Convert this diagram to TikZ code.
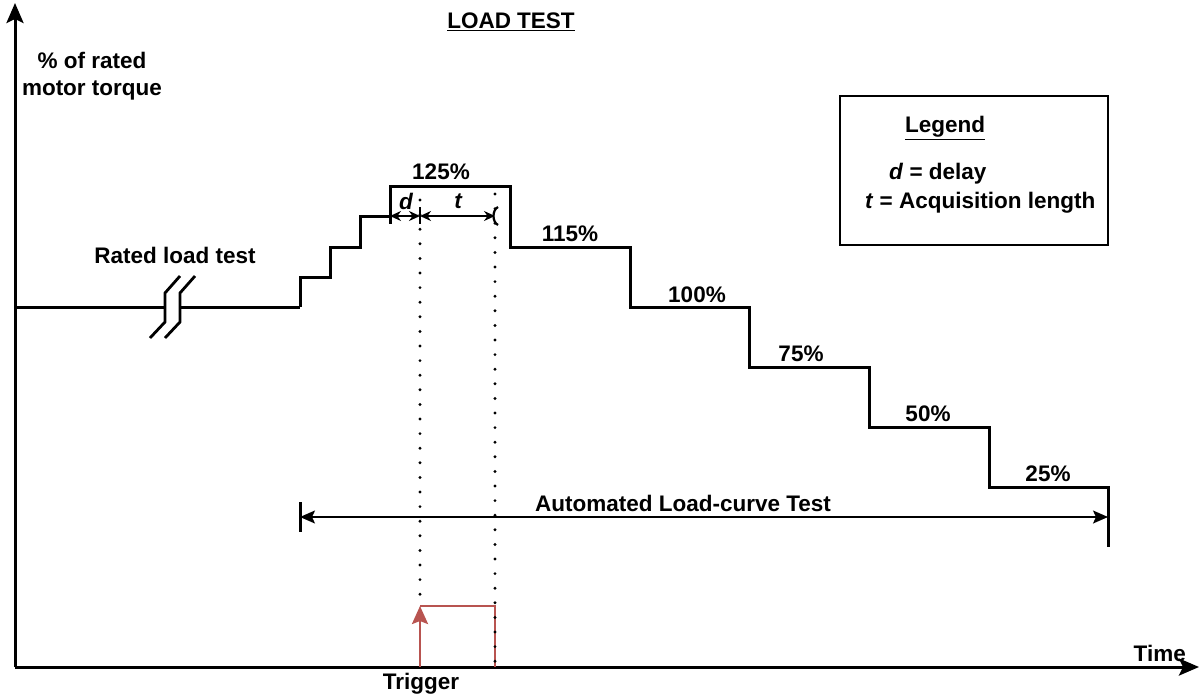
\documentclass[tikz,border=0pt]{standalone}
\usepackage{fontspec}
\setmainfont{Liberation Sans}
\usetikzlibrary{arrows.meta}
\definecolor{trigred}{RGB}{184,84,80}
\begin{document}
\begin{tikzpicture}[x=1pt,y=-1pt,
  lbl/.style={inner sep=0pt,font=\fontsize{22.5}{26.5}\selectfont\bfseries},
  thick line/.style={line width=3pt,line join=miter},
  axis/.style={line width=3pt,-{Stealth[length=20pt,width=17pt,inset=4pt]}},
  dim/.style={line width=1.6pt,{Stealth[length=11pt,width=10pt]}-{Stealth[length=11pt,width=10pt]}},
  dots/.style={line width=3.2pt,line cap=round,dash pattern=on 0pt off 14.6pt}]
\useasboundingbox (0,0) rectangle (1200,697);

% axes
\coordinate (O) at (15,667);
\coordinate (ytop) at (15,3);
\coordinate (xend) at (1199,667);
\draw[axis] (O) -- (ytop);
\draw[axis] (O) -- (xend);
\node[lbl,anchor=south east] (time) at (1186,662) {Time};
\node[lbl,align=center] (ylabel) at (92,76) {\% of rated\\motor torque};
\node[lbl] (title) at (511,22) {\underline{LOAD TEST}};

% rated load segment with break marks
\coordinate (r0) at (15,307);
\coordinate (b1) at (165,307);
\coordinate (b2) at (180,307);
\coordinate (s0) at (300,307);
\draw[thick line] (r0) -- (b1);
\draw[thick line] (b2) -- (s0);
\draw[line width=2.8pt] (150,338) -- (165,322) -- (165,293) -- (180,276);
\draw[line width=2.8pt] (165,338) -- (180,322) -- (180,293) -- (195,276);
\node[lbl] (rated) at (175,255) {Rated load test};

% load staircase
\coordinate (p125l) at (390,186);
\coordinate (p125r) at (510,186);
\coordinate (end) at (1108,547);
\draw[thick line] (s0) -- (300,277) -- (330,277) -- (330,247) -- (360,247)
  -- (360,216) -- (390,216) -- (p125l) -- (p125r) -- (510,247) -- (630,247)
  -- (630,307) -- (749,307) -- (749,367) -- (869,367) -- (869,427)
  -- (989,427) -- (989,487) -- (1108,487) -- (end);

\node[lbl] (l125) at (441,172) {125\%};
\node[lbl] (l115) at (570,234) {115\%};
\node[lbl] (l100) at (697,295) {100\%};
\node[lbl] (l75) at (801,354) {75\%};
\node[lbl] (l50) at (928,414) {50\%};
\node[lbl] (l25) at (1048,474) {25\%};

% delay and acquisition window
\coordinate (dA) at (390,216);
\coordinate (dB) at (420,216);
\coordinate (tB) at (495,216);
\draw[line width=3pt] (390,207) -- (390,224);
\draw[line width=2.4pt] (420,207) -- (420,224);
\draw[dim] (dA) -- (dB);
\draw[dim] (dB) -- (tB);
\draw[line width=2.2pt] (498,207) .. controls (492,210) and (492,222) .. (498,225);
\node[lbl,font=\fontsize{22.5}{26.5}\selectfont\bfseries\itshape] (dlab) at (406,201) {d};
\node[lbl,font=\fontsize{22.5}{26.5}\selectfont\bfseries\itshape] (tlab) at (458,201) {t};

% trigger pulse
\coordinate (trA) at (420,667);
\coordinate (trB) at (420,606);
\coordinate (trC) at (495,606);
\coordinate (trD) at (495,667);
\draw[trigred,line width=2.6pt,-{Stealth[length=18pt,width=16pt,inset=3pt]}] (trA) -- (trB);
\draw[trigred,line width=2.6pt] (trB) -- (trC) -- (trD);
\node[lbl] (trig) at (421,684) {Trigger};

% timing guides
\draw[dots] (420,200) -- (trB);
\draw[dots] (495,194) -- (trD);

% automated test span
\coordinate (aL) at (300,517);
\coordinate (aR) at (1108,517);
\draw[line width=3pt] (300,502) -- (300,532);
\draw[line width=1.6pt,{Stealth[length=15pt,width=13pt,inset=3pt]}-{Stealth[length=15pt,width=13pt,inset=3pt]}] (aL) -- (aR);
\node[lbl] (auto) at (683,503) {Automated Load-curve Test};

% legend
\node[draw,line width=2.4pt,minimum width=268pt,minimum height=149pt,inner sep=0pt] (legend) at (974,170.5) {};
\node[lbl] (legtitle) at (945,128) {\underline{Legend}};
\node[lbl,anchor=west] (legd) at (889,174) {\textit{d} = delay};
\node[lbl,anchor=west] (legt) at (865,203) {\textit{t} = Acquisition length};
\end{tikzpicture}
\end{document}
